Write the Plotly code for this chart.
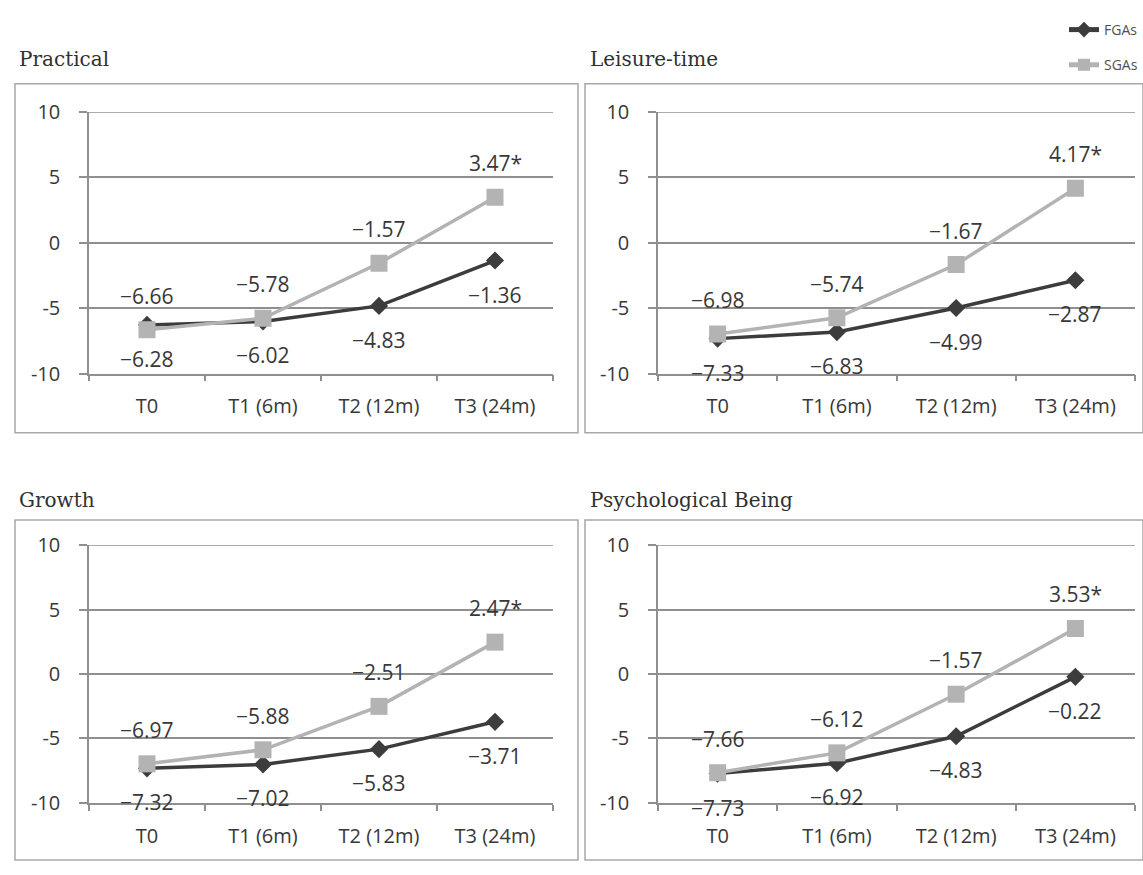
import plotly.graph_objects as go

categories = ["T0", "T1 (6m)", "T2 (12m)", "T3 (24m)"]
panel_titles = ["Practical", "Leisure-time", "Growth", "Psychological Being"]

fgas_practical = [-6.28, -6.02, -4.83, -1.36]
sgas_practical = [-6.66, -5.78, -1.57, 3.47]
fgas_leisure = [-7.33, -6.83, -4.99, -2.87]
sgas_leisure = [-6.98, -5.74, -1.67, 4.17]
fgas_growth = [-7.32, -7.02, -5.83, -3.71]
sgas_growth = [-6.97, -5.88, -2.51, 2.47]
fgas_psych = [-7.73, -6.92, -4.83, -0.22]
sgas_psych = [-7.66, -6.12, -1.57, 3.53]

significant = [False, False, False, True]  # SGA T3 marked with *
y_ticks = [-10, -5, 0, 5, 10]

W, H = 1143, 875
def px(x): return x / W
def py(y): return 1 - y / H

FGA_COLOR = "#3c3c3c"
SGA_COLOR = "#b3b3b3"
GRID = "#8f8f8f"
TXT = "#383838"
SANS = "Open Sans, Noto Sans, sans-serif"
TICK_FONT = dict(family=SANS, size=20, color=TXT)
LABEL_FONT = dict(family=SANS, size=21, color=TXT)
TITLE_FONT = dict(family="DejaVu Serif, serif", size=20, color="#303030")

panels = [
    dict(title=panel_titles[0], fga=fgas_practical, sga=sgas_practical,
         xdom=[px(89), px(553)], ydom=[py(371), py(101)],
         box=(15, 72, 578, 432), tpos=(17, 46)),
    dict(title=panel_titles[1], fga=fgas_leisure, sga=sgas_leisure,
         xdom=[px(658), px(1135)], ydom=[py(371), py(101)],
         box=(585, 72, 1143, 432), tpos=(588, 46)),
    dict(title=panel_titles[2], fga=fgas_growth, sga=sgas_growth,
         xdom=[px(89), px(553)], ydom=[py(814), py(548)],
         box=(15, 522, 578, 873), tpos=(17, 501)),
    dict(title=panel_titles[3], fga=fgas_psych, sga=sgas_psych,
         xdom=[px(658), px(1135)], ydom=[py(814), py(548)],
         box=(585, 522, 1143, 873), tpos=(588, 501)),
]

fmt = lambda v: ("\u2212" if v < 0 else "") + f"{abs(v):.2f}"

fig = go.Figure()
shapes, annotations = [], []
layout = {}
for i, p in enumerate(panels):
    n = "" if i == 0 else str(i + 1)
    xa, ya = "x" + n, "y" + n
    fig.add_trace(go.Scatter(
        x=categories, y=p["fga"], xaxis=xa, yaxis=ya, name="FGAs", mode="lines+markers",
        line=dict(color=FGA_COLOR, width=3.5), marker=dict(symbol="diamond", size=14, color=FGA_COLOR),
        showlegend=(i == 0), legendgroup="fga", legendrank=1))
    fig.add_trace(go.Scatter(
        x=categories, y=p["sga"], xaxis=xa, yaxis=ya, name="SGAs", mode="lines+markers",
        line=dict(color=SGA_COLOR, width=3.5), marker=dict(symbol="square", size=17, color=SGA_COLOR),
        showlegend=(i == 0), legendgroup="sga", legendrank=2))
    layout["xaxis" + n] = dict(
        domain=p["xdom"], anchor=ya, type="category", categoryorder="array", categoryarray=categories,
        range=[-0.5, 3.5], showgrid=False, showline=True, linecolor=GRID, linewidth=1.5,
        ticks="outside", tickson="boundaries", ticklen=6, tickcolor=GRID, tickwidth=1.5,
        tickfont=TICK_FONT, ticklabelstandoff=14, fixedrange=True)
    layout["yaxis" + n] = dict(
        domain=p["ydom"], anchor=xa, range=[-10, 10], tickvals=y_ticks,
        ticktext=[str(t) for t in y_ticks],
        showgrid=True, gridcolor=GRID, gridwidth=1.5, zeroline=False,
        showline=True, linecolor=GRID, linewidth=1.5,
        ticks="outside", ticklen=8, tickcolor=GRID, tickwidth=1.5,
        tickfont=TICK_FONT, ticklabelstandoff=15, fixedrange=True)
    # top gridline (plotly hides gridlines on the plot-area edge)
    shapes.append(dict(type="line", xref=xa + " domain", yref=ya, x0=0, x1=1,
                       y0=y_ticks[-1], y1=y_ticks[-1], line=dict(color=GRID, width=1.5)))
    x0, y0, x1, y1 = p["box"]
    shapes.append(dict(type="rect", xref="paper", yref="paper", x0=px(x0), x1=px(x1),
                       y0=py(y1), y1=py(y0), line=dict(color="#a8a8a8", width=1.5)))
    annotations.append(dict(xref="paper", yref="paper", x=px(p["tpos"][0]), y=py(p["tpos"][1]),
                            xanchor="left", yanchor="middle", text=p["title"], showarrow=False,
                            font=TITLE_FONT))
    for c, v, s in zip(categories, p["sga"], significant):
        annotations.append(dict(xref=xa, yref=ya, x=c, y=v, yshift=34, showarrow=False,
                                text=fmt(v) + ("*" if s else ""), font=LABEL_FONT))
    for c, v in zip(categories, p["fga"]):
        annotations.append(dict(xref=xa, yref=ya, x=c, y=v, yshift=-34, showarrow=False,
                                text=fmt(v), font=LABEL_FONT))

fig.update_layout(
    width=W, height=H, margin=dict(l=0, r=0, t=0, b=0),
    paper_bgcolor="white", plot_bgcolor="white",
    showlegend=True,
    legend=dict(x=px(1143), y=py(0), xanchor="right", yanchor="top", bgcolor="rgba(0,0,0,0)",
                font=dict(family=SANS, size=14, color="#505050"),
                itemwidth=30, itemsizing="constant", tracegroupgap=14),
    shapes=shapes, annotations=annotations, **layout)

fig.write_html("out.html")
